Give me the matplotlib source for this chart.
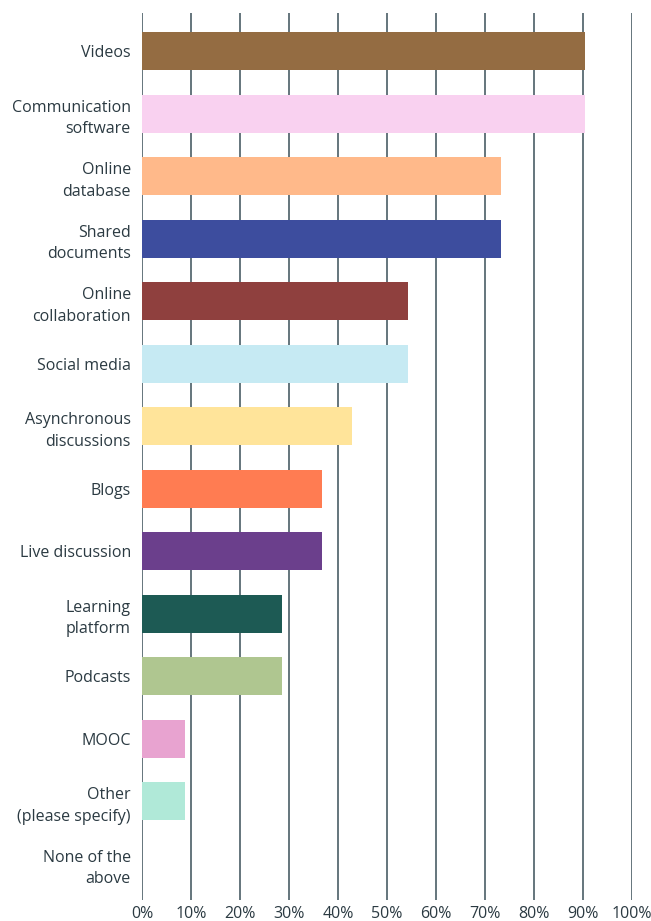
import matplotlib
matplotlib.use('Agg')
import matplotlib.pyplot as plt
import numpy as np

categories = ['Videos', 'Communication\nsoftware', 'Online\ndatabase', 'Shared\ndocuments',
              'Online\ncollaboration', 'Social media', 'Asynchronous\ndiscussions', 'Blogs',
              'Live discussion', 'Learning\nplatform', 'Podcasts', 'MOOC',
              'Other\n(please specify)', 'None of the\nabove']
values = [90.5, 90.5, 73.3, 73.3, 54.3, 54.3, 42.9, 36.7, 36.7, 28.5, 28.5, 8.8, 8.8, 0]
colors = ['#946c42', '#f9d1f0', '#ffb98a', '#3d4d9e', '#8f403e', '#c6eaf3', '#ffe49a',
          '#ff7c52', '#6b3f8c', '#1d5a54', '#afc690', '#e8a3d0', '#b0e9d8', '#ffffff']
xticks = np.arange(0, 101, 10)

plt.rcParams['font.family'] = ['Open Sans', 'DejaVu Sans']
text_color = '#2b3a42'

fig = plt.figure(figsize=(6.51, 9.21), dpi=100)
ax = fig.add_axes([142/651, 21/921, 490/651, 887/921])

y = np.arange(len(categories))
for xv in xticks:
    ax.axvline(xv, color='#3b4f58', lw=1.1, zorder=1)
ax.barh(y, values, height=0.61, color=colors, zorder=2)

ax.set_xlim(0, 100)
ax.set_ylim(13.58, -0.61)
ax.set_yticks(y)
ax.set_yticklabels(categories, fontsize=11.5, color=text_color, ha='right', linespacing=1.45)
ax.set_xticks(xticks)
ax.set_xticklabels([f'{v}%' for v in xticks], fontsize=11.5, color=text_color)
ax.tick_params(axis='both', length=0)
ax.tick_params(axis='y', pad=8)
ax.tick_params(axis='x', pad=4)
for s in ax.spines.values():
    s.set_visible(False)

fig.savefig('out.png', dpi=100)
